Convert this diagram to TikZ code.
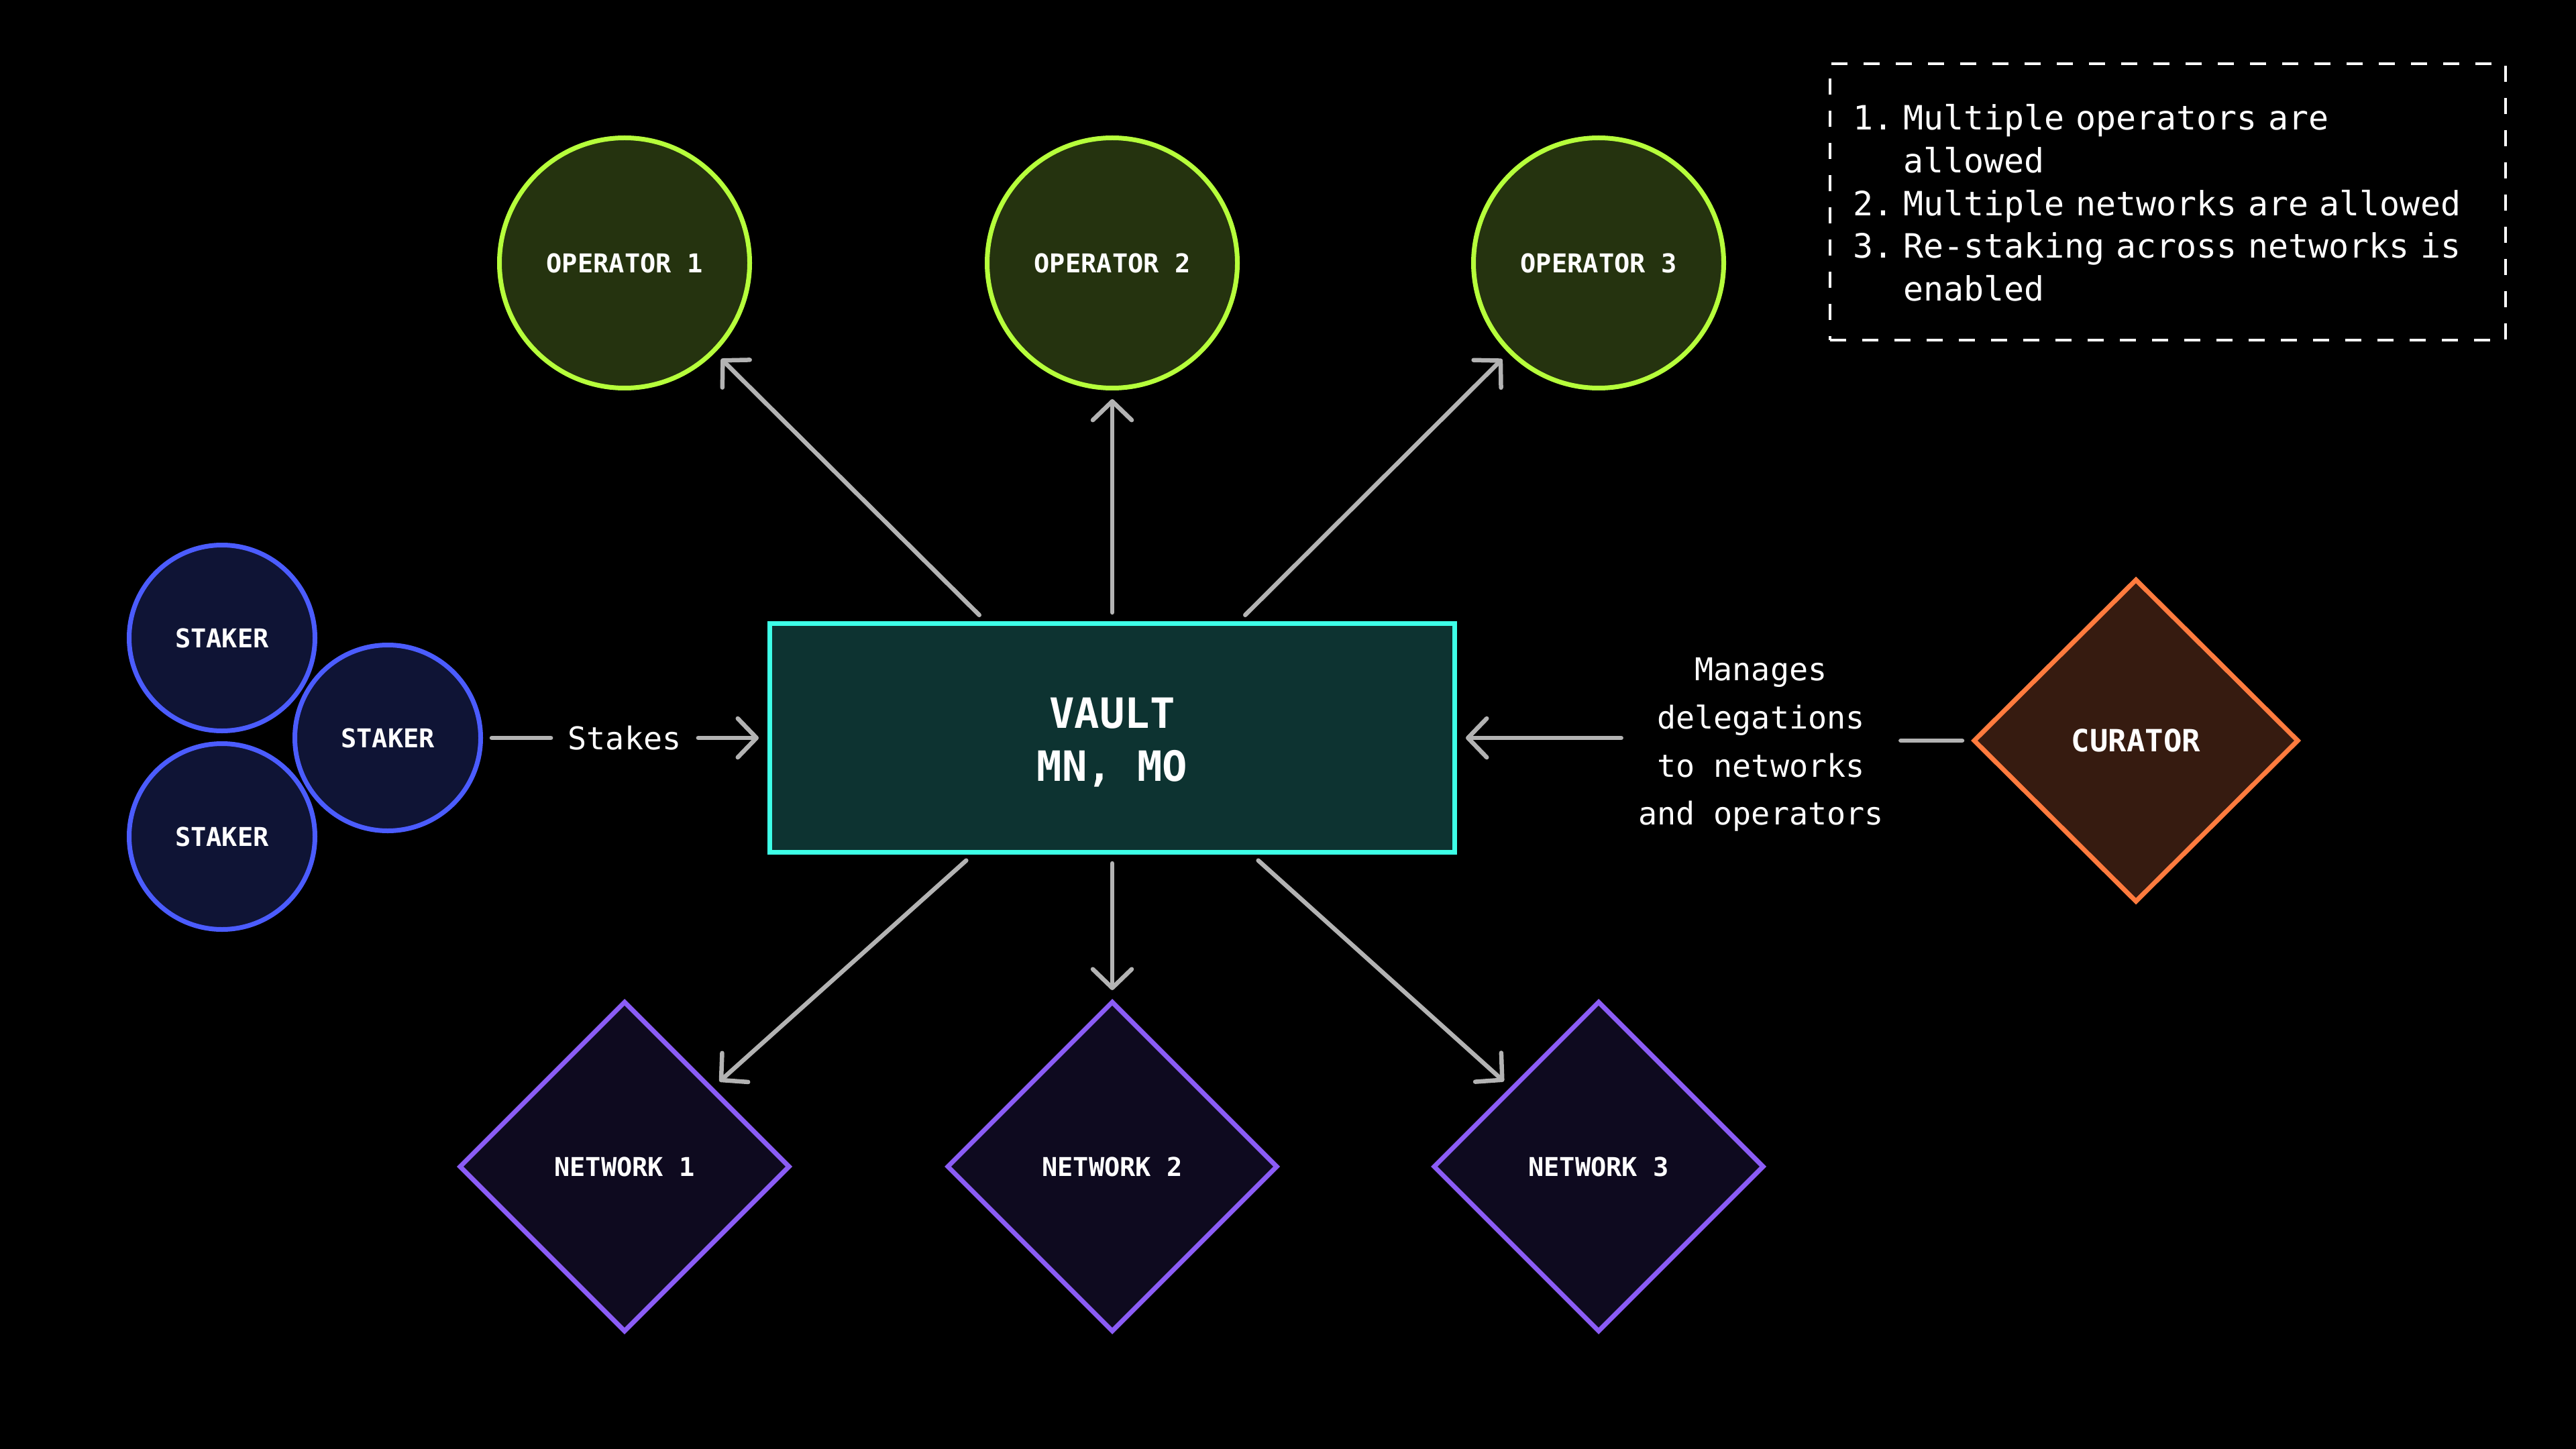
\documentclass[tikz,border=0pt]{standalone}
\usepackage{fontspec}
\setmonofont{DejaVu Sans Mono}
\usepackage{xcolor}
\usepackage{tikz}
\usetikzlibrary{arrows.meta, shapes.geometric}

\definecolor{OperatorLine}{HTML}{B6FF3B}
\definecolor{OperatorFill}{HTML}{25330F}
\definecolor{StakerLine}{HTML}{4B5CFF}
\definecolor{StakerFill}{HTML}{0F1435}
\definecolor{VaultLine}{HTML}{3DFFE7}
\definecolor{VaultFill}{HTML}{0D3331}
\definecolor{NetworkLine}{HTML}{8B5CF6}
\definecolor{NetworkFill}{HTML}{0E0A1F}
\definecolor{CuratorLine}{HTML}{FF7B3E}
\definecolor{CuratorFill}{HTML}{361B10}
\definecolor{FlowGray}{HTML}{B3B3B3}

\begin{document}
\begin{tikzpicture}[
  every node/.style={text=white, font=\ttfamily},
  nodetext/.style={font=\ttfamily\bfseries\fontsize{11}{13}\selectfont, inner sep=0pt, line width=0.07cm},
  operator/.style={nodetext, circle, draw=OperatorLine, fill=OperatorFill, minimum size=3.73cm},
  staker/.style={nodetext, circle, draw=StakerLine, fill=StakerFill, minimum size=2.77cm},
  network/.style={nodetext, diamond, draw=NetworkLine, fill=NetworkFill, minimum width=4.93cm, minimum height=4.93cm},
  flow/.style={draw=FlowGray, line width=0.065cm, line cap=round, shorten <=0.13cm, shorten >=0.13cm},
  arr/.style={flow, -{Straight Barb[length=0.28cm, width=0.58cm, round]}},
  words/.style={font=\ttfamily\fontsize{13.3}{20.4}\selectfont, align=center}
]
  \fill[black] (0,0) rectangle (38.4,-21.6);
  \useasboundingbox (0,0) rectangle (38.4,-21.6);

  % operators
  \node[operator] (op1) at (9.31,-3.92) {OPERATOR 1};
  \node[operator] (op2) at (16.58,-3.92) {OPERATOR 2};
  \node[operator] (op3) at (23.83,-3.92) {OPERATOR 3};

  % stakers
  \node[staker] (staker1) at (3.31,-9.51) {STAKER};
  \node[staker] (staker3) at (3.31,-12.47) {STAKER};
  \node[staker] (staker2) at (5.78,-11.0) {STAKER};

  \node[rectangle, draw=VaultLine, fill=VaultFill, line width=0.07cm, minimum width=10.21cm, minimum height=3.41cm,
        font=\ttfamily\bfseries\fontsize{17.7}{22.6}\selectfont] (vault) at (16.58,-11.0)
        {\raisebox{-0.245cm}[0pt][0pt]{\begin{tabular}{@{}c@{}}VAULT\\MN, MO\end{tabular}}};

  % networks
  \node[network] (net1) at (9.31,-17.39) {NETWORK 1};
  \node[network] (net2) at (16.58,-17.39) {NETWORK 2};
  \node[network] (net3) at (23.83,-17.39) {NETWORK 3};

  \node[nodetext, diamond, draw=CuratorLine, fill=CuratorFill, minimum width=4.85cm, minimum height=4.82cm,
        font=\ttfamily\bfseries\fontsize{13}{15}\selectfont] (curator) at (31.84,-11.04) {CURATOR};

  \node[words] (stakes) at (9.31,-11.0) {Stakes};
  \node[words] (manages) at (26.25,-11.1) {Manages\\delegations\\to networks\\and operators};

  \node[draw=white, line width=0.035cm, dash pattern=on 0.24cm off 0.24cm, text width=9.39cm, inner xsep=0.34cm,
        minimum height=4.12cm, align=left, font=\ttfamily\fontsize{14.2}{18.1}\selectfont] (note) at (32.315,-3.01)
  {\noindent\raisebox{-0.2cm}[0pt][0pt]{\begin{tabular}{@{}l@{\hspace{0.3em}}l@{}}
    1. & Multiple operators are\\
       & allowed\\
    2. & Multiple networks are allowed\\
    3. & Re-staking across networks is\\
       & enabled
  \end{tabular}}};

  % connectors
  \draw[arr] ([xshift=-1.89cm]vault.north) -- (op1);
  \draw[arr] (vault) -- (op2);
  \draw[arr] ([xshift=1.89cm]vault.north) -- (op3);
  \draw[arr] ([xshift=-2.08cm]vault.south) -- (net1);
  \draw[arr] (vault) -- (net2);
  \draw[arr] ([xshift=2.08cm]vault.south) -- (net3);

  \draw[flow] (staker2) -- (stakes);
  \draw[arr] (stakes) -- (vault);
  \draw[flow] (curator.west) -- (manages.east |- curator.west);
  \draw[arr] (manages.west |- vault) -- (vault);

\end{tikzpicture}
\end{document}
